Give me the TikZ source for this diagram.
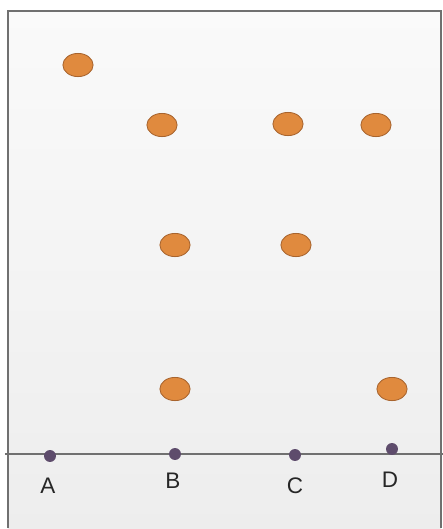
\documentclass[tikz,border=0pt]{standalone}
\usepackage{fontspec}
\setmainfont{Liberation Sans}
\usetikzlibrary{shapes.geometric}
\definecolor{spotfill}{HTML}{E08A3E}
\definecolor{spotedge}{HTML}{A8642E}
\definecolor{dotfill}{HTML}{5E4C6C}
\definecolor{plateline}{HTML}{707070}
\tikzset{
  spot/.style={ellipse, fill=spotfill, draw=spotedge, line width=0.6pt,
    minimum width=21.5pt, minimum height=16.5pt, inner sep=0pt},
  start/.style={circle, fill=dotfill, minimum size=8.5pt, inner sep=0pt},
  lane/.style={font=\fontsize{16}{16}\selectfont, text=black!85}
}
\begin{document}
\begin{tikzpicture}[x=0.025cm, y=-0.025cm]
    \useasboundingbox (0,0) rectangle (443,529);
    \shade[top color=white!98!black, bottom color=white!93!black] (8,11) rectangle (441,528);
    \draw[plateline, line width=1.2pt] (8,528) -- (8,11) -- (441,11) -- (441,528);

    \coordinate (L) at (5,454);
    \coordinate (R) at (443,454);
    \draw[plateline, line width=1.4pt] (L) -- (R);

    % starting points
    \node[start] (a) at (50,456) {};
    \node[start] (b) at (175,454) {};
    \node[start] (c) at (295,455) {};
    \node[start] (d) at (392,449) {};

    \node[lane] (la) at (48,486) {A};
    \node[lane] (lb) at (173,481) {B};
    \node[lane] (lc) at (295,486) {C};
    \node[lane] (ld) at (390,480) {D};

    % spots
    \node[spot] (s1) at (78,65) {};
    \node[spot] (s2) at (162,125) {};
    \node[spot] (s3) at (288,124) {};
    \node[spot] (s4) at (376,125) {};
    \node[spot] (s5) at (175,245) {};
    \node[spot] (s6) at (296,245) {};
    \node[spot] (s7) at (175,389) {};
    \node[spot] (s8) at (392,389) {};
\end{tikzpicture}
\end{document}
